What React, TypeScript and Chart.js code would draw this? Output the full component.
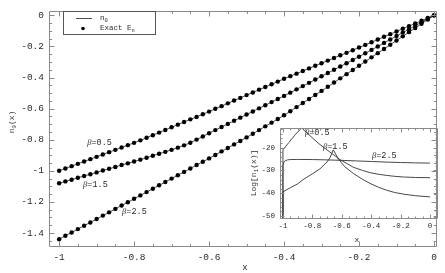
import React, { useEffect, useRef } from "react";
import { Chart, registerables } from "chart.js";

Chart.register(...registerables);

// ---------- main chart data: n0(x) and exact points ----------
const mainX = [
  -1.0, -0.9833, -0.9667, -0.95, -0.9333, -0.9167, -0.9, -0.8833, -0.8667, -0.85,
  -0.8333, -0.8167, -0.8, -0.7833, -0.7667, -0.75, -0.7333, -0.7167, -0.7, -0.6833,
  -0.6667, -0.65, -0.6333, -0.6167, -0.6, -0.5833, -0.5667, -0.55, -0.5333, -0.5167,
  -0.5, -0.4833, -0.4667, -0.45, -0.4333, -0.4167, -0.4, -0.3833, -0.3667, -0.35,
  -0.3333, -0.3167, -0.3, -0.2833, -0.2667, -0.25, -0.2333, -0.2167, -0.2, -0.1833,
  -0.1667, -0.15, -0.1333, -0.1167, -0.1, -0.0833, -0.0667, -0.05, -0.0333, -0.0167, 0.0,
];
const n0Beta05 = [
  -1.0, -0.985, -0.97, -0.955, -0.94, -0.925, -0.91, -0.895, -0.88, -0.865,
  -0.85, -0.835, -0.82, -0.804, -0.787, -0.771, -0.754, -0.737, -0.72, -0.703,
  -0.686, -0.669, -0.653, -0.636, -0.619, -0.601, -0.584, -0.566, -0.548, -0.531,
  -0.513, -0.496, -0.478, -0.461, -0.443, -0.426, -0.408, -0.391, -0.375, -0.358,
  -0.341, -0.324, -0.308, -0.291, -0.274, -0.257, -0.241, -0.224, -0.207, -0.19,
  -0.173, -0.155, -0.138, -0.121, -0.104, -0.086, -0.069, -0.052, -0.035, -0.017, 0.0,
];
const n0Beta15 = [
  -1.08, -1.068, -1.057, -1.045, -1.033, -1.022, -1.01, -0.998, -0.987, -0.975,
  -0.963, -0.952, -0.94, -0.928, -0.916, -0.903, -0.89, -0.878, -0.865, -0.851,
  -0.836, -0.819, -0.799, -0.779, -0.758, -0.738, -0.718, -0.698, -0.678, -0.658,
  -0.638, -0.618, -0.598, -0.578, -0.558, -0.538, -0.518, -0.497, -0.476, -0.455,
  -0.434, -0.413, -0.392, -0.371, -0.35, -0.329, -0.308, -0.287, -0.266, -0.244,
  -0.222, -0.2, -0.177, -0.155, -0.133, -0.111, -0.089, -0.067, -0.044, -0.022, 0.0,
];
const n0Beta25 = [
  -1.44, -1.418, -1.397, -1.375, -1.353, -1.332, -1.31, -1.288, -1.267, -1.245,
  -1.223, -1.202, -1.18, -1.158, -1.137, -1.115, -1.093, -1.072, -1.05, -1.028,
  -1.007, -0.985, -0.963, -0.942, -0.92, -0.898, -0.875, -0.853, -0.83, -0.808,
  -0.785, -0.762, -0.738, -0.714, -0.69, -0.667, -0.643, -0.617, -0.59, -0.564,
  -0.538, -0.512, -0.486, -0.459, -0.432, -0.405, -0.378, -0.351, -0.324, -0.297,
  -0.27, -0.243, -0.216, -0.189, -0.162, -0.135, -0.108, -0.081, -0.054, -0.027, 0.0,
];

const mainXTicks = [-1, -0.8, -0.6, -0.4, -0.2, 0];
const mainXTickLabels = ["-1", "-0.8", "-0.6", "-0.4", "-0.2", "0"];
const mainYTicks = [0, -0.2, -0.4, -0.6, -0.8, -1, -1.2, -1.4];
const mainYTickLabels = ["0", "-0.2", "-0.4", "-0.6", "-0.8", "-1", "-1.2", "-1.4"];
const mainXMinor = [
  -1, -0.95, -0.9, -0.85, -0.8, -0.75, -0.7, -0.65, -0.6, -0.55, -0.5,
  -0.45, -0.4, -0.35, -0.3, -0.25, -0.2, -0.15, -0.1, -0.05, 0,
];
const mainYMinor = [
  0, -0.05, -0.1, -0.15, -0.2, -0.25, -0.3, -0.35, -0.4, -0.45, -0.5, -0.55,
  -0.6, -0.65, -0.7, -0.75, -0.8, -0.85, -0.9, -0.95, -1, -1.05, -1.1, -1.15,
  -1.2, -1.25, -1.3, -1.35, -1.4, -1.45,
];
const mainBetaLabels = ["\u03b2=0.5", "\u03b2=1.5", "\u03b2=2.5"];
const mainBetaLabelX = [-0.925, -0.936, -0.832];
const mainBetaLabelY = [-0.82, -1.088, -1.263];

// ---------- inset data: Log[n1(x)] ----------
const insetXBeta05 = [-1, -1, -0.96, -0.92, -0.873, -0.85, -0.816, -0.78, -0.748, -0.71, -0.68, -0.64, -0.612, -0.56, -0.522, -0.46, -0.408, -0.35, -0.295, -0.24, -0.18, -0.1, 0];
const insetYBeta05 = [-60, -21, -17.8, -14.6, -11.4, -12.8, -14.8, -16.9, -18.7, -20.5, -22, -23.9, -25.3, -27.2, -28.6, -30, -31, -31.7, -32.2, -32.6, -32.9, -33.1, -33.2];
const insetXBeta15 = [-1, -1, -0.95, -0.9, -0.864, -0.8, -0.748, -0.7, -0.68, -0.658, -0.624, -0.58, -0.522, -0.46, -0.408, -0.35, -0.295, -0.24, -0.18, -0.1, 0];
const insetYBeta15 = [-60, -39.4, -37.6, -35.9, -34.1, -31.5, -29.3, -26.3, -24.4, -21, -24.9, -28.4, -31.3, -33.9, -35.7, -37.4, -38.7, -39.7, -40.4, -41.1, -41.6];
const insetXBeta25 = [-1, -1, -0.995, -0.985, -0.97, -0.95, -0.9, -0.8, -0.7, -0.6, -0.5, -0.4, -0.3, -0.2, -0.1, 0];
const insetYBeta25 = [-60, -28, -26.5, -25.8, -25.4, -25.25, -25.2, -25.25, -25.4, -25.6, -25.85, -26.1, -26.35, -26.55, -26.7, -26.8];

const insetXTicks = [-1, -0.8, -0.6, -0.4, -0.2, 0];
const insetXTickLabels = ["-1", "-0.8", "-0.6", "-0.4", "-0.2", "0"];
const insetYTicks = [-50, -40, -30, -20];
const insetYTickLabels = ["-50", "-40", "-30", "-20"];
const insetXMinor = [
  -1, -0.95, -0.9, -0.85, -0.8, -0.75, -0.7, -0.65, -0.6, -0.55, -0.5,
  -0.45, -0.4, -0.35, -0.3, -0.25, -0.2, -0.15, -0.1, -0.05, 0,
];
const insetYMinor = [-50, -48, -46, -44, -42, -40, -38, -36, -34, -32, -30, -28, -26, -24, -22, -20, -18, -16, -14, -12];
const insetBetaLabels = ["\u03b2=0.5", "\u03b2=1.5", "\u03b2=2.5"];
const insetBetaLabelX = [-0.85, -0.728, -0.395];
const insetBetaLabelY = [-13.6, -19.6, -23.5];

// ---------- helpers ----------
const MONO = '"Liberation Mono", "DejaVu Sans Mono", monospace';
const SERIF = '"Liberation Serif", "DejaVu Serif", serif';
const TEXT = "#2a2a2a";
const FRAME = "#8a8a8a";

type Part = { t: string; sub?: boolean; greek?: boolean };

function fontFor(p: Part, size: number) {
  const s = p.sub ? size * 0.72 : size;
  return p.greek ? `italic ${s}px ${SERIF}` : `${s}px ${MONO}`;
}

function drawRich(ctx: CanvasRenderingContext2D, parts: Part[], x: number, y: number, size: number, align: "left" | "center" | "right", rotate = 0) {
  ctx.save();
  ctx.translate(x, y);
  if (rotate) ctx.rotate(rotate);
  ctx.textBaseline = "middle";
  ctx.textAlign = "left";
  ctx.fillStyle = TEXT;
  const widths = parts.map((p) => {
    ctx.font = fontFor(p, size);
    return ctx.measureText(p.t).width;
  });
  const total = widths.reduce((a, b) => a + b, 0);
  let cx = align === "left" ? 0 : align === "center" ? -total / 2 : -total;
  parts.forEach((p, i) => {
    ctx.font = fontFor(p, size);
    ctx.fillText(p.t, cx, p.sub ? size * 0.3 : 0);
    cx += widths[i];
  });
  ctx.restore();
}

function betaParts(s: string): Part[] {
  return [{ t: s.slice(0, 1), greek: true }, { t: s.slice(1) }];
}

const framePlugin = {
  id: "frame",
  afterDatasetsDraw(chart: any, _args: any, opts: any) {
    const { ctx, chartArea: a, scales } = chart;
    const L = Math.round(a.left) + 0.5;
    const R = Math.round(a.right) - 0.5;
    const T = Math.round(a.top) + 0.5;
    const B = Math.round(a.bottom) - 0.5;
    ctx.save();
    ctx.strokeStyle = FRAME;
    ctx.lineWidth = 1;
    ctx.beginPath();
    ctx.rect(L, T, R - L, B - T);
    const xt = (vals: number[], len: number) =>
      vals.forEach((v) => {
        const px = Math.round(scales.x.getPixelForValue(v)) + 0.5;
        ctx.moveTo(px, B);
        ctx.lineTo(px, B - len);
        ctx.moveTo(px, T);
        ctx.lineTo(px, T + len);
      });
    const yt = (vals: number[], len: number) =>
      vals.forEach((v) => {
        const py = Math.round(scales.y.getPixelForValue(v)) + 0.5;
        ctx.moveTo(L, py);
        ctx.lineTo(L + len, py);
        ctx.moveTo(R, py);
        ctx.lineTo(R - len, py);
      });
    xt(opts.xMinor, opts.minorLen);
    xt(opts.xMajor, opts.majorLen);
    yt(opts.yMinor, opts.minorLen);
    yt(opts.yMajor, opts.majorLen);
    ctx.stroke();
    ctx.restore();
  },
};

const labelsPlugin = {
  id: "labels",
  afterDraw(chart: any, _args: any, opts: any) {
    const { ctx, scales } = chart;
    (opts.data || []).forEach((d: any) => {
      const px = scales.x.getPixelForValue(d.x);
      const py = scales.y.getPixelForValue(d.y);
      drawRich(ctx, betaParts(d.text), px, py, opts.size, "left");
    });
    if (opts.extra) opts.extra(ctx, chart);
  },
};

function tickLabel(ticks: number[], labels: string[]) {
  return (v: any) => {
    const i = ticks.findIndex((t) => Math.abs(t - Number(v)) < 1e-9);
    return i >= 0 ? labels[i] : "";
  };
}

export default function App() {
  const mainRef = useRef<HTMLCanvasElement | null>(null);
  const insetRef = useRef<HTMLCanvasElement | null>(null);

  useEffect(() => {
    const series = [n0Beta05, n0Beta15, n0Beta25];
    const mainChart = new Chart(mainRef.current as HTMLCanvasElement, {
      type: "scatter",
      data: {
        datasets: series.map((arr) => ({
          data: mainX.map((x, i) => ({ x, y: arr[i] })),
          showLine: true,
          borderColor: "#222",
          borderWidth: 0.8,
          pointRadius: 2.2,
          pointBackgroundColor: "#000",
          pointBorderWidth: 0,
          pointHoverRadius: 0,
        })),
      },
      options: {
        responsive: false,
        animation: false,
        events: [],
        layout: { padding: { top: 3, right: 8, left: 0, bottom: 0 } },
        plugins: {
          legend: { display: false },
          tooltip: { enabled: false },
          frame: { xMajor: mainXTicks, xMinor: mainXMinor, yMajor: mainYTicks, yMinor: mainYMinor, majorLen: 5, minorLen: 2.5 },
          labels: {
            size: 8.5,
            data: mainBetaLabels.map((t, i) => ({ text: t, x: mainBetaLabelX[i], y: mainBetaLabelY[i] })),
            extra: (ctx: CanvasRenderingContext2D) => {
              // axis titles
              drawRich(ctx, [{ t: "n" }, { t: "0", sub: true }, { t: "(x)" }], 12, 122, 8, "center", -Math.PI / 2);
              drawRich(ctx, [{ t: "x" }], 245, 268, 9, "center");
              // legend box
              ctx.save();
              ctx.fillStyle = "#fff";
              ctx.fillRect(63.5, 11.5, 92, 23);
              ctx.strokeStyle = "#555";
              ctx.lineWidth = 1;
              ctx.strokeRect(63.5, 11.5, 92, 23);
              ctx.beginPath();
              ctx.moveTo(76, 18.5);
              ctx.lineTo(92, 18.5);
              ctx.strokeStyle = "#222";
              ctx.lineWidth = 0.8;
              ctx.stroke();
              ctx.beginPath();
              ctx.fillStyle = "#000";
              ctx.arc(83, 28.5, 1.8, 0, Math.PI * 2);
              ctx.fill();
              ctx.restore();
              drawRich(ctx, [{ t: "n" }, { t: "0", sub: true }], 100, 18, 7.5, "left");
              drawRich(ctx, [{ t: "Exact E" }, { t: "n", sub: true }], 100, 28, 7.5, "left");
            },
          },
        } as any,
        scales: {
          x: {
            type: "linear",
            min: -1.027,
            max: 0.008,
            grid: { display: false, drawTicks: false },
            border: { display: false },
            afterFit: (s: any) => {
              s.height = 26;
            },
            afterBuildTicks: (s: any) => {
              s.ticks = mainXTicks.map((v) => ({ value: v }));
            },
            ticks: {
              padding: 5,
              autoSkip: false,
              maxRotation: 0,
              color: TEXT,
              font: { family: MONO, size: 9.5 },
              callback: tickLabel(mainXTicks, mainXTickLabels),
            },
          },
          y: {
            type: "linear",
            min: -1.49,
            max: 0.03,
            grid: { display: false, drawTicks: false },
            border: { display: false },
            afterFit: (s: any) => {
              s.width = 49;
            },
            afterBuildTicks: (s: any) => {
              s.ticks = mainYTicks.map((v) => ({ value: v }));
            },
            ticks: {
              padding: 5,
              autoSkip: false,
              color: TEXT,
              font: { family: MONO, size: 9.5 },
              callback: tickLabel(mainYTicks, mainYTickLabels),
            },
          },
        },
      },
      plugins: [framePlugin, labelsPlugin],
    });

    const insetSeries = [
      [insetXBeta05, insetYBeta05],
      [insetXBeta15, insetYBeta15],
      [insetXBeta25, insetYBeta25],
    ];
    const insetChart = new Chart(insetRef.current as HTMLCanvasElement, {
      type: "scatter",
      data: {
        datasets: insetSeries.map(([xs, ys]) => ({
          data: xs.map((x, i) => ({ x, y: ys[i] })),
          showLine: true,
          borderColor: "#333",
          borderWidth: 0.9,
          pointRadius: 0,
          pointHoverRadius: 0,
          clip: 0,
        })),
      },
      options: {
        responsive: false,
        animation: false,
        events: [],
        layout: { padding: { top: 9, right: 6, left: 0, bottom: 0 } },
        plugins: {
          legend: { display: false },
          tooltip: { enabled: false },
          frame: { xMajor: insetXTicks, xMinor: insetXMinor, yMajor: insetYTicks, yMinor: insetYMinor, majorLen: 4, minorLen: 2 },
          labels: {
            size: 8.5,
            data: insetBetaLabels.map((t, i) => ({ text: t, x: insetBetaLabelX[i], y: insetBetaLabelY[i] })),
            extra: (ctx: CanvasRenderingContext2D) => {
              drawRich(ctx, [{ t: "Log[n" }, { t: "1", sub: true }, { t: "(x)]" }], 14, 55, 8, "center", -Math.PI / 2);
              drawRich(ctx, [{ t: "x" }], 117, 122, 8, "center");
            },
          },
        } as any,
        scales: {
          x: {
            type: "linear",
            min: -1.02,
            max: 0.054,
            grid: { display: false, drawTicks: false },
            border: { display: false },
            afterFit: (s: any) => {
              s.height = 29;
            },
            afterBuildTicks: (s: any) => {
              s.ticks = insetXTicks.map((v) => ({ value: v }));
            },
            ticks: {
              padding: 3,
              autoSkip: false,
              maxRotation: 0,
              color: TEXT,
              font: { family: MONO, size: 7.5 },
              callback: tickLabel(insetXTicks, insetXTickLabels),
            },
          },
          y: {
            type: "linear",
            min: -51.3,
            max: -11.2,
            grid: { display: false, drawTicks: false },
            border: { display: false },
            afterFit: (s: any) => {
              s.width = 40;
            },
            afterBuildTicks: (s: any) => {
              s.ticks = insetYTicks.map((v) => ({ value: v }));
            },
            ticks: {
              padding: 5,
              autoSkip: false,
              color: TEXT,
              font: { family: MONO, size: 7.5 },
              callback: tickLabel(insetYTicks, insetYTickLabels),
            },
          },
        },
      },
      plugins: [framePlugin, labelsPlugin],
    });

    return () => {
      mainChart.destroy();
      insetChart.destroy();
    };
  }, []);

  return (
    <div style={{ position: "absolute", left: 0, top: 0, width: 445, height: 273, background: "#fff", overflow: "hidden" }}>
      <canvas ref={mainRef} width={445} height={273} style={{ position: "absolute", left: 0, top: 0 }} />
      <canvas ref={insetRef} width={204} height={130} style={{ position: "absolute", left: 240, top: 118 }} />
    </div>
  );
}
